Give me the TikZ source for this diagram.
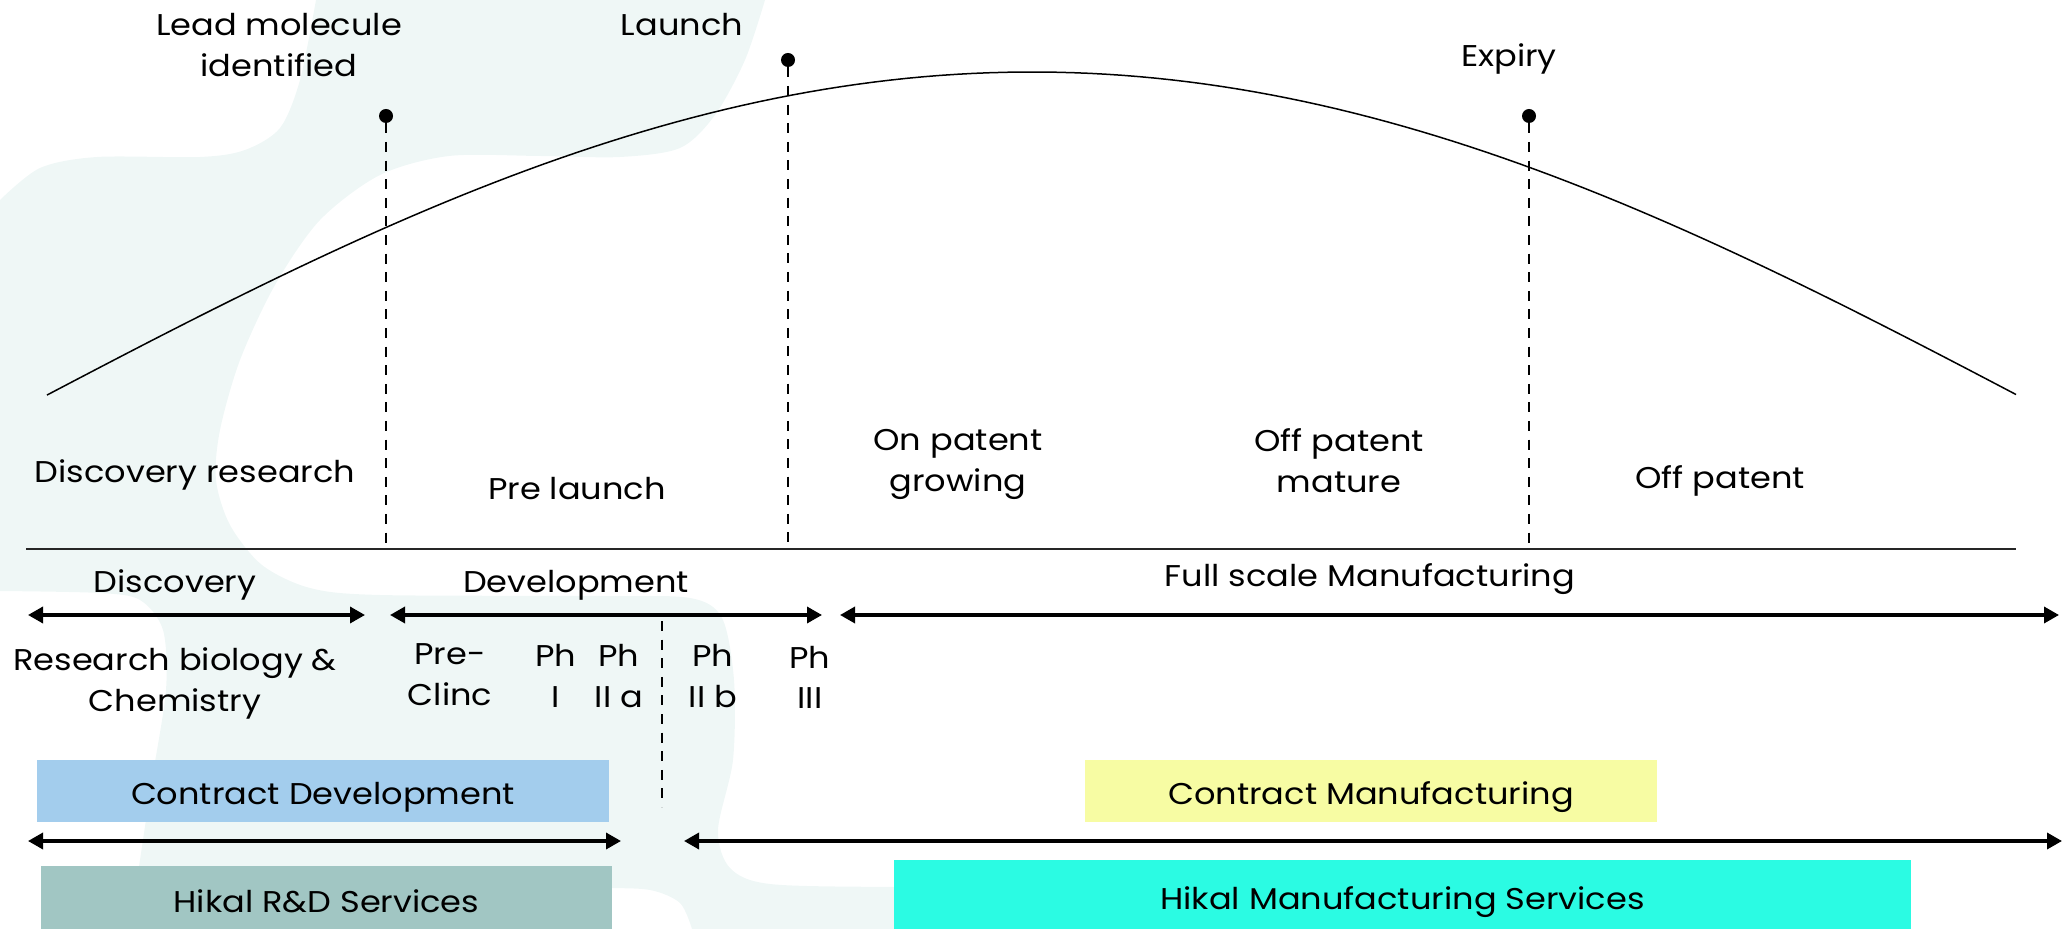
\documentclass[tikz,border=0pt]{standalone}
\usepackage{fontspec}
\setmainfont{Poppins}[FakeStretch=1.12]
\usetikzlibrary{arrows.meta}
\definecolor{bgteal}{HTML}{EFF7F6}
\definecolor{cdblue}{HTML}{A3CDED}
\definecolor{rdgray}{HTML}{A1C6C3}
\definecolor{cmyellow}{HTML}{F7FCA3}
\definecolor{hmcyan}{HTML}{2BFBE3}
\newcommand{\twol}[2]{\vtop{\halign{\hfil##\hfil\cr #1\cr #2\cr}}}
\begin{document}
\begin{tikzpicture}[x=0.5pt,y=-0.5pt,
  lbl/.style={font=\fontsize{15}{20.5}\selectfont, inner sep=0pt, anchor=base},
  boxnode/.style={rectangle, inner sep=0pt, font=\fontsize{15}{20.5}\selectfont, text height=13pt, text depth=0pt},
  dotnode/.style={circle, fill=black, inner sep=0pt, minimum size=7pt},
  vdash/.style={line width=1pt, dash pattern=on 5pt off 4.3pt},
  span/.style={line width=1.7pt, {Triangle[length=7.5pt,width=8pt]}-{Triangle[length=7.5pt,width=8pt]}}
]
\useasboundingbox (0,0) rectangle (2064,929);
% background blob
\begin{scope}
\clip (0,0) rectangle (2064,929);
\fill[bgteal] (316,-10) -- (766,-10) -- plot[smooth, tension=0.5] coordinates {(765,0) (745,60) (715,115) (680,148) (620,157) (540,156) (449,156) (380,175) (320,220) (275,285) (240,360) (220,430) (216,480) (230,525) (262,565) (310,588) (380,595) (600,596) (690,598) (722,618) (734,680) (733,760) (718,830) (730,868) (770,884) (894,887) (1100,887)} -- (1100,940) -- (695,940) -- plot[smooth, tension=0.5] coordinates {(692,929) (680,903) (650,890) (600,888) (500,888)} -- (500,940) -- (135,940) -- plot[smooth, tension=0.5] coordinates {(130,929) (140,860) (152,780) (166,690) (163,630) (140,600) (100,593) (0,591)} -- (-10,591) -- (-10,205) -- plot[smooth, tension=0.5] coordinates {(0,200) (40,168) (97,157) (200,157) (245,150) (280,128) (300,80) (316,0)} -- cycle;
\end{scope}
% life-cycle curve
\draw[line width=0.75pt] plot[domain=47:2016, samples=120] (\x, {72 + 342*(1-cos(deg((\x-1032)/650)))});
% baseline
\coordinate (hl) at (26,549);
\coordinate (hr) at (2016,549);
\draw[line width=1pt, black!85] (hl) -- (hr);
% milestones
\node[dotnode] (dlead) at (386,116) {};
\node[dotnode] (dlaunch) at (788,60) {};
\node[dotnode] (dexp) at (1529,116) {};
\coordinate (elead) at (386,546);
\coordinate (elaunch) at (788,546);
\coordinate (eexp) at (1529,546);
\draw[vdash] (dlead) -- (elead);
\draw[vdash] (dlaunch) -- (elaunch);
\draw[vdash] (dexp) -- (eexp);
\coordinate (ptop) at (662,621);
\coordinate (pbot) at (662,807);
\draw[vdash] (ptop) -- (pbot);
% top labels
\node[lbl] (tlead) at (279,36) {\twol{Lead molecule}{identified}};
\node[lbl] (tlaunch) at (682,36) {Launch};
\node[lbl] (texp) at (1509,67) {Expiry};
% stage labels
\node[lbl] (tdr) at (195,483) {Discovery research};
\node[lbl] (tpl) at (577,500) {Pre launch};
\node[lbl] (tog) at (958,451) {\twol{On patent}{growing}};
\node[lbl] (tom) at (1339,452) {\twol{Off patent}{mature}};
\node[lbl] (top) at (1720,489) {Off patent};
% phases
\node[lbl] (tdisc) at (175,592) {Discovery};
\node[lbl] (tdev) at (576,592) {Development};
\node[lbl] (tfsm) at (1370,587) {Full scale Manufacturing};
\coordinate (a1l) at (28,615);
\coordinate (a1r) at (365,615);
\coordinate (a2l) at (390,615);
\coordinate (a2r) at (822,615);
\coordinate (a3l) at (840,615);
\coordinate (a3r) at (2059,615);
\draw[span] (a1l) -- (a1r);
\draw[span] (a2l) -- (a2r);
\draw[span] (a3l) -- (a3r);
\node[lbl] (trb) at (175,670) {\twol{Research biology \&}{Chemistry}};
\node[lbl] (tpc) at (450,664) {\twol{Pre-}{Clinc}};
\node[lbl] (tp1) at (556,666) {\twol{Ph}{I}};
\node[lbl] (tp2a) at (619,666) {\twol{Ph}{II a}};
\node[lbl] (tp2b) at (713,666) {\twol{Ph}{II b}};
\node[lbl] (tp3) at (810,668) {\twol{Ph}{III}};
% service boxes
\node[boxnode, fill=cdblue, minimum width=286pt, minimum height=31pt] (cd) at (323,791) {Contract Development};
\node[boxnode, fill=cmyellow, minimum width=286pt, minimum height=31pt] (cm) at (1371,791) {Contract Manufacturing};
\coordinate (b1l) at (28,841);
\coordinate (b1r) at (621,841);
\coordinate (b2l) at (684,841);
\coordinate (b2r) at (2062,841);
\draw[span] (b1l) -- (b1r);
\draw[span] (b2l) -- (b2r);
\node[boxnode, fill=rdgray, minimum width=285.5pt, minimum height=33pt] (rd) at (326.5,899) {Hikal R\&D Services};
\node[boxnode, fill=hmcyan, minimum width=508.5pt, minimum height=36pt] (hm) at (1402.5,896) {Hikal Manufacturing Services};
\end{tikzpicture}
\end{document}
